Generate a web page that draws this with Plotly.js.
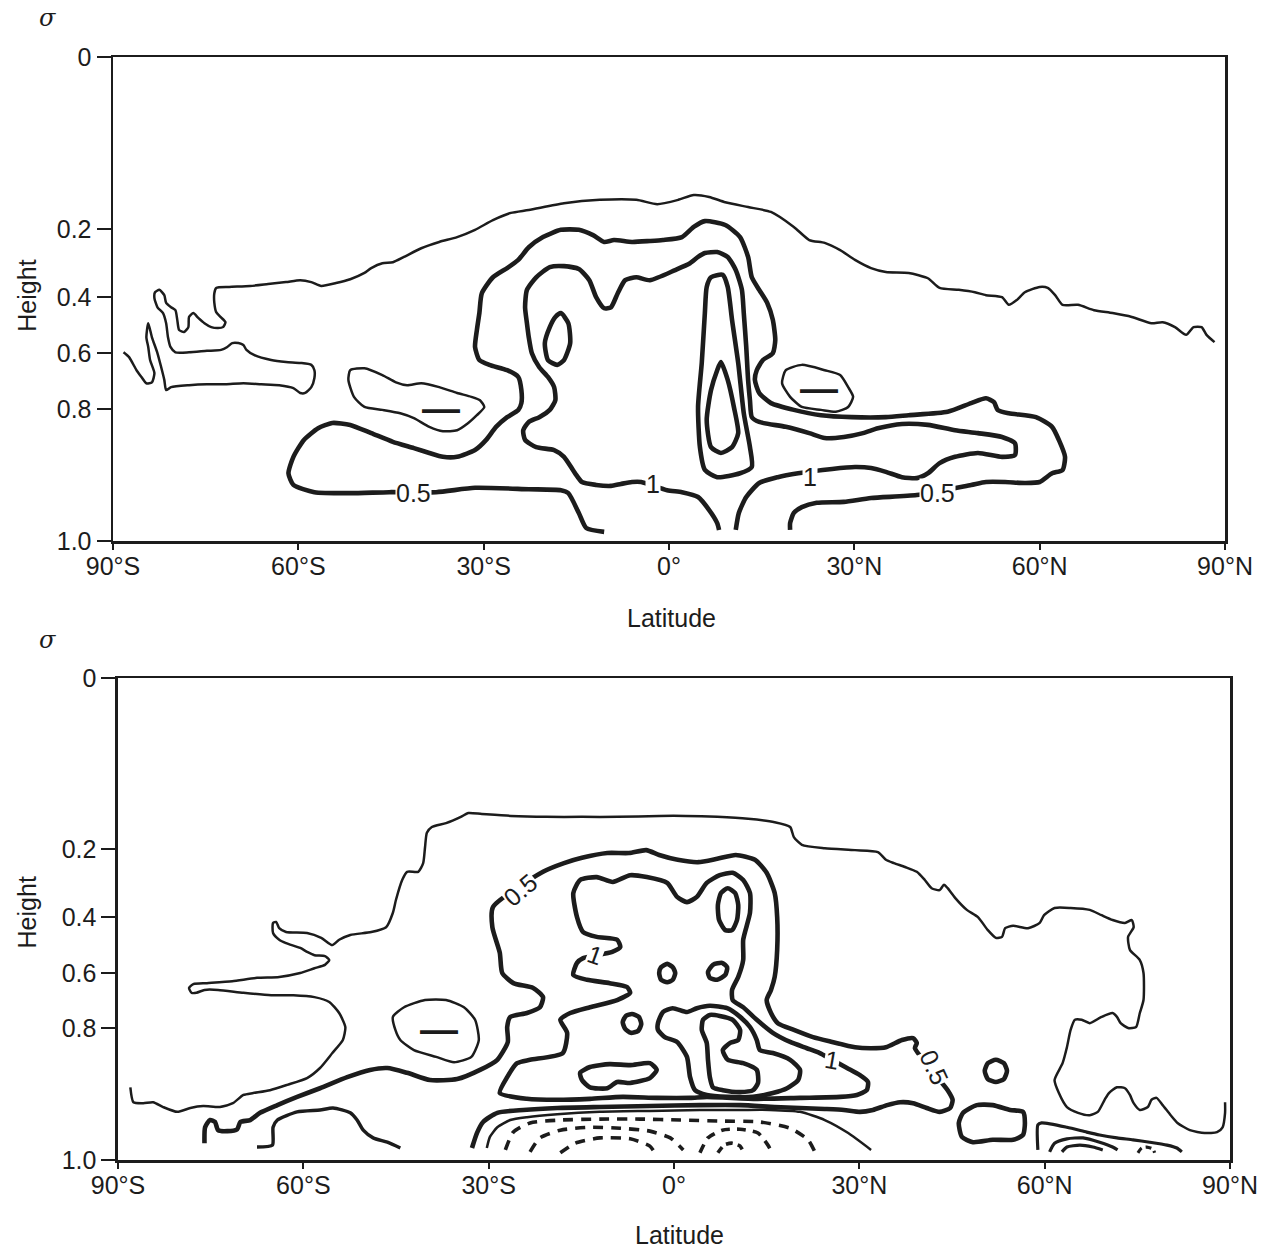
<!DOCTYPE html>
<html>
<head>
<meta charset="utf-8">
<script src="https://cdn.plot.ly/plotly-3.0.1.min.js"></script>
<style>html,body{margin:0;padding:0;background:#fff;}#chart{width:1277px;height:1251px;}</style>
</head>
<body>
<div id="chart"></div>
<script>
// ---------- axis tick data ----------
const latTicks = [-90, -60, -30, 0, 30, 60, 90];
const latLabels = ['90°S', '60°S', '30°S', '0°', '30°N', '60°N', '90°N'];
// normalized height (0 = surface, 1 = model top) at which each sigma level sits
const sigmaHeights = [0, 0.273, 0.388, 0.504, 0.645, 1.0];
const sigmaLabels = ['1.0', '0.8', '0.6', '0.4', '0.2', '0'];

// ---------- upper panel contours (lat, height) ----------
const topOuterLat = [-88.3,-87.4,-86.2,-85.4,-84.6,-83.7,-83.3,-84.0,-84.3,-84.6,-84.3,-83.7,-82.8,-82.2,-81.7,-81.4,-80.6,-77.7,-74.8,-71.8,-68.9,-66.0,-63.1,-60.8,-59.7,-58.9,-57.9,-57.4,-57.4,-57.9,-59.7,-62.0,-64.4,-67.1,-68.4,-68.9,-69.7,-70.7,-71.5,-72.5,-74.8,-77.7,-79.9,-80.7,-81.1,-81.4,-81.9,-82.8,-83.3,-83.2,-82.5,-81.7,-81.4,-80.6,-79.9,-79.6,-79.3,-78.5,-77.8,-77.7,-77.0,-76.2,-75.2,-74.1,-73.0,-72.2,-71.8,-72.6,-73.3,-73.6,-73.6,-73.3,-71.2,-67.8,-64.9,-62.0,-59.7,-57.9,-56.3,-53.9,-51.6,-49.3,-48.2,-46.4,-44.7,-42.9,-40.1,-37.2,-34.3,-31.4,-28.5,-25.6,-22.7,-17.0,-11.2,-5.3,-1.9,1.5,4.0,6.5,9.1,12.8,16.5,20.2,22.7,25.2,27.7,30.1,32.7,35.1,38.8,41.9,43.8,46.9,49.5,51.3,53.9,55.0,56.3,57.6,60.0,61.3,62.5,63.7,66.2,68.8,71.8,74.9,78.1,79.9,81.9,83.7,84.9,86.2,87.0,88.3];
const topOuterH = [0.390,0.380,0.353,0.339,0.326,0.328,0.347,0.374,0.401,0.421,0.450,0.421,0.388,0.359,0.333,0.312,0.318,0.322,0.324,0.324,0.326,0.324,0.322,0.316,0.306,0.306,0.318,0.337,0.353,0.364,0.368,0.370,0.374,0.384,0.395,0.405,0.409,0.409,0.401,0.395,0.393,0.390,0.390,0.401,0.421,0.450,0.471,0.483,0.502,0.514,0.519,0.508,0.492,0.483,0.477,0.457,0.436,0.432,0.442,0.463,0.471,0.461,0.450,0.442,0.440,0.442,0.452,0.463,0.473,0.492,0.512,0.523,0.525,0.527,0.531,0.535,0.539,0.535,0.527,0.533,0.541,0.554,0.564,0.574,0.576,0.587,0.605,0.618,0.628,0.643,0.663,0.678,0.684,0.698,0.705,0.705,0.696,0.705,0.715,0.711,0.700,0.690,0.680,0.649,0.622,0.616,0.601,0.581,0.564,0.556,0.554,0.543,0.523,0.519,0.514,0.508,0.504,0.488,0.498,0.514,0.525,0.523,0.508,0.488,0.488,0.477,0.471,0.463,0.450,0.452,0.442,0.426,0.442,0.442,0.426,0.411];

const topHalfLat = [-10.5,-13.4,-14.6,-16.3,-17.5,-22.7,-31.4,-37.7,-45.3,-51.6,-57.4,-60.8,-61.6,-60.8,-59.1,-56.8,-54.5,-51.6,-48.2,-44.7,-41.3,-38.8,-36.6,-34.3,-31.4,-29.6,-28.0,-26.2,-24.4,-23.9,-23.9,-24.4,-26.2,-29.1,-30.7,-31.4,-31.1,-30.7,-30.3,-28.5,-26.2,-24.4,-22.7,-20.4,-17.5,-14.6,-12.3,-10.5,-8.9,-6.0,-3.1,-1.0,2.1,4.0,5.8,9.1,11.5,12.8,13.4,14.6,15.9,16.8,17.2,16.8,15.2,14.2,13.9,14.6,16.5,20.2,24.6,29.6,35.1,38.8,45.1,48.9,51.3,52.6,53.2,55.0,59.4,62.0,63.1,64.1,63.7,62.0,60.0,57.6,54.4,51.3,48.9,40.1,32.7,28.3,23.9,21.5,20.2,19.6,19.6];
const topHalfH = [0.019,0.027,0.058,0.099,0.105,0.107,0.110,0.101,0.101,0.099,0.101,0.116,0.140,0.174,0.209,0.233,0.244,0.240,0.223,0.205,0.192,0.182,0.174,0.174,0.188,0.209,0.236,0.256,0.271,0.285,0.312,0.339,0.353,0.364,0.374,0.401,0.436,0.471,0.512,0.545,0.564,0.581,0.607,0.628,0.643,0.643,0.632,0.618,0.622,0.618,0.620,0.622,0.628,0.649,0.661,0.653,0.628,0.587,0.545,0.519,0.492,0.457,0.415,0.388,0.374,0.353,0.333,0.306,0.285,0.271,0.260,0.256,0.256,0.260,0.267,0.285,0.295,0.287,0.271,0.264,0.256,0.236,0.209,0.174,0.147,0.140,0.122,0.120,0.122,0.122,0.116,0.095,0.089,0.081,0.079,0.070,0.058,0.037,0.023];

const topOneLat = [8.1,7.8,6.5,4.7,2.1,-0.3,-4.5,-6.0,-7.8,-9.4,-11.8,-14.1,-15.2,-17.0,-18.6,-21.5,-23.3,-23.6,-22.7,-21.0,-19.3,-18.4,-18.6,-19.6,-21.0,-22.2,-22.7,-23.0,-23.3,-23.0,-21.5,-19.3,-17.0,-14.6,-12.9,-11.8,-10.5,-9.4,-8.3,-7.1,-5.3,-3.1,1.0,3.4,4.7,5.8,7.8,9.5,10.8,11.8,12.1,12.5,12.8,13.1,13.4,14.6,18.9,22.7,25.2,28.3,31.4,33.8,37.7,41.9,46.3,50.0,53.9,56.0,56.0,53.9,50.0,46.3,43.8,41.9,40.1,37.7,35.1,32.7,30.1,26.4,20.9,17.6,14.6,12.5,11.3,10.8];
const topOneH = [0.023,0.037,0.064,0.091,0.101,0.105,0.122,0.122,0.118,0.114,0.116,0.122,0.140,0.174,0.188,0.194,0.209,0.229,0.246,0.256,0.271,0.291,0.318,0.339,0.359,0.388,0.421,0.450,0.483,0.519,0.545,0.566,0.568,0.562,0.539,0.504,0.481,0.483,0.512,0.539,0.545,0.539,0.560,0.574,0.587,0.595,0.597,0.587,0.560,0.519,0.471,0.401,0.333,0.291,0.256,0.246,0.236,0.223,0.213,0.215,0.223,0.233,0.242,0.240,0.229,0.223,0.215,0.202,0.178,0.174,0.182,0.174,0.161,0.140,0.130,0.132,0.143,0.151,0.153,0.149,0.140,0.132,0.120,0.091,0.058,0.023];

const topTwoLat = [6.8,8.7,9.5,10.2,11.2,12.1,13.1,13.4,11.5,7.8,5.8,5.0,4.7,5.3,5.8,6.1];
const topTwoH = [0.545,0.550,0.525,0.457,0.368,0.264,0.194,0.153,0.140,0.132,0.147,0.194,0.277,0.368,0.471,0.525];
const topThreeLat = [8.4,9.5,10.5,11.2,10.2,8.4,6.8,6.1,6.8,7.8];
const topThreeH = [0.370,0.333,0.277,0.223,0.194,0.182,0.194,0.250,0.312,0.353];
const topOvalLat = [-17.5,-16.3,-16.0,-17.0,-18.1,-19.6,-20.1,-19.3,-18.4];
const topOvalH = [0.471,0.450,0.409,0.374,0.364,0.374,0.409,0.442,0.463];
const topNegSLat = [-51.6,-49.3,-46.4,-44.2,-42.4,-40.1,-37.2,-34.3,-32.0,-30.6,-29.9,-31.1,-32.5,-34.3,-36.6,-38.8,-41.3,-43.5,-46.4,-49.3,-51.0,-51.9];
const topNegSH = [0.353,0.357,0.343,0.328,0.322,0.326,0.318,0.306,0.298,0.291,0.277,0.260,0.244,0.229,0.227,0.236,0.254,0.264,0.271,0.277,0.298,0.333];
const topNegNLat = [18.9,21.5,25.2,27.7,29.0,29.8,29.0,27.0,24.6,21.5,19.6,18.3];
const topNegNH = [0.353,0.364,0.353,0.343,0.318,0.298,0.277,0.267,0.271,0.277,0.298,0.326];

// ---------- lower panel contours (lat, height) ----------
const botOuterLat = [-88.0,-87.5,-85.9,-84.3,-82.7,-80.4,-78.3,-76.2,-73.5,-71.4,-69.7,-68.1,-65.4,-62.6,-59.4,-57.3,-55.3,-53.6,-53.2,-54.2,-55.8,-58.2,-61.6,-65.2,-69.7,-73.8,-76.0,-77.3,-78.1,-78.5,-77.8,-75.6,-71.5,-67.5,-63.9,-60.5,-58.2,-56.5,-55.8,-56.5,-58.2,-59.4,-60.5,-62.8,-63.9,-64.9,-64.9,-64.4,-63.9,-62.8,-59.4,-57.1,-55.3,-54.2,-52.4,-49.0,-46.6,-45.5,-45.0,-44.0,-43.2,-41.4,-40.6,-40.3,-40.0,-39.2,-36.9,-34.5,-33.3,-31.1,-26.4,-20.7,-14.9,-9.1,-2.4,1.9,7.0,12.0,16.3,18.8,19.4,20.7,24.4,29.3,33.0,34.3,35.6,37.4,39.3,40.6,41.7,43.0,43.7,44.3,45.5,47.4,49.2,50.8,52.1,53.1,53.6,54.9,57.3,59.2,59.9,61.6,64.2,67.3,69.2,71.0,73.0,74.1,74.4,73.5,73.8,75.4,76.0,76.0,75.4,74.8,73.5,72.3,71.7,71.0,69.2,67.3,66.0,64.9,64.2,63.6,62.9,61.6,62.3,63.6,65.4,67.3,68.6,69.7,70.4,71.7,73.0,73.8,74.4,75.4,76.7,77.3,78.1,79.1,80.4,81.5,83.5,85.9,87.9,88.8,89.2,89.2];
const botOuterH = [0.151,0.120,0.118,0.120,0.110,0.100,0.108,0.112,0.110,0.118,0.135,0.139,0.145,0.156,0.170,0.191,0.222,0.249,0.276,0.305,0.328,0.338,0.342,0.342,0.347,0.353,0.353,0.347,0.347,0.357,0.365,0.367,0.371,0.378,0.380,0.388,0.398,0.405,0.415,0.423,0.425,0.432,0.440,0.450,0.457,0.471,0.492,0.494,0.481,0.473,0.471,0.461,0.446,0.457,0.467,0.473,0.483,0.513,0.540,0.581,0.598,0.598,0.616,0.649,0.679,0.691,0.699,0.712,0.720,0.718,0.714,0.712,0.712,0.712,0.714,0.714,0.712,0.708,0.701,0.691,0.670,0.654,0.647,0.643,0.639,0.623,0.616,0.608,0.598,0.581,0.564,0.560,0.571,0.564,0.544,0.519,0.504,0.477,0.461,0.463,0.481,0.486,0.481,0.492,0.508,0.523,0.523,0.519,0.508,0.498,0.492,0.498,0.483,0.463,0.436,0.415,0.388,0.332,0.305,0.276,0.274,0.284,0.297,0.305,0.297,0.284,0.291,0.291,0.270,0.234,0.201,0.166,0.139,0.110,0.098,0.093,0.100,0.125,0.139,0.151,0.149,0.135,0.118,0.104,0.110,0.125,0.129,0.114,0.093,0.077,0.062,0.056,0.058,0.068,0.098,0.120];

const botHalfLat = [-76.0,-75.9,-75.1,-74.3,-73.8,-72.3,-70.7,-70.2,-68.6,-67.0,-64.2,-61.0,-57.3,-52.9,-49.2,-46.4,-43.2,-39.5,-35.1,-31.4,-28.6,-26.9,-27.0,-26.5,-23.8,-21.7,-21.2,-22.8,-26.0,-27.8,-28.2,-29.4,-29.3,-21.2,-17.8,-14.9,-10.8,-7.3,-4.5,-2.4,0.6,3.9,7.0,10.0,13.1,15.0,16.3,16.7,16.7,16.3,15.7,15.0,15.7,16.8,19.4,22.5,25.6,29.3,31.9,34.3,36.9,38.7,39.3,39.0,44.3,45.1,44.7,43.0,40.9,38.7,36.6,34.5,32.2,30.1,27.5,24.4,20.4,16.3,10.7,4.2,-3.9,-12.0,-18.9,-24.4,-28.6,-30.9,-31.9,-32.7];
const botHalfH = [0.035,0.068,0.083,0.079,0.062,0.060,0.064,0.079,0.083,0.098,0.114,0.131,0.149,0.172,0.187,0.191,0.181,0.166,0.168,0.187,0.208,0.245,0.276,0.297,0.305,0.317,0.338,0.357,0.367,0.388,0.430,0.483,0.525,0.598,0.616,0.627,0.637,0.637,0.643,0.633,0.623,0.618,0.625,0.633,0.623,0.596,0.554,0.504,0.436,0.380,0.353,0.332,0.305,0.284,0.270,0.255,0.245,0.234,0.232,0.234,0.249,0.253,0.243,0.232,0.145,0.125,0.108,0.100,0.108,0.118,0.120,0.114,0.104,0.100,0.104,0.106,0.108,0.110,0.114,0.114,0.112,0.110,0.108,0.104,0.098,0.079,0.056,0.025];

const botOneLat = [26.9,20.4,13.4,5.3,2.6,-2.8,-8.3,-13.6,-18.9,-23.8,-28.2,-27.0,-25.4,-23.3,-18.0,-17.3,-18.4,-16.8,-13.6,-9.2,-7.1,-7.6,-10.4,-14.1,-16.3,-15.7,-14.7,-10.0,-8.7,-9.2,-12.5,-14.7,-15.7,-16.3,-15.2,-12.5,-9.9,-7.1,-4.4,-1.1,0.5,2.1,3.7,5.3,7.4,9.5,11.2,12.3,12.3,11.2,11.2,10.4,9.4,9.5,11.2,13.4,16.0,18.8,21.5,23.6,28.0,30.1,31.4,31.2,29.6,26.9];
const botOneH = [0.131,0.129,0.127,0.131,0.129,0.129,0.131,0.127,0.125,0.127,0.139,0.172,0.201,0.208,0.222,0.264,0.291,0.305,0.317,0.332,0.347,0.359,0.367,0.374,0.384,0.409,0.419,0.432,0.442,0.457,0.463,0.473,0.504,0.554,0.581,0.587,0.577,0.591,0.587,0.575,0.546,0.535,0.546,0.575,0.591,0.596,0.581,0.554,0.513,0.457,0.415,0.380,0.353,0.332,0.317,0.291,0.264,0.245,0.232,0.222,0.191,0.176,0.162,0.145,0.135,0.131];

const botOneHalfLat = [-2.6,-1.8,-0.2,2.1,3.7,5.8,8.6,10.7,12.3,13.4,13.9,16.0,18.8,20.4,20.1,18.3,16.0,12.8,8.6,5.3,3.4,2.6,2.1,0.5,-1.5,-2.6];
const botOneHalfH = [0.284,0.307,0.315,0.307,0.315,0.320,0.315,0.297,0.276,0.249,0.228,0.222,0.208,0.187,0.166,0.149,0.139,0.131,0.131,0.135,0.145,0.172,0.214,0.245,0.255,0.270];
const botTwoLat = [4.7,5.8,7.4,9.5,10.7,10.4,9.1,7.9,8.7,11.2,13.4,13.6,12.8,10.7,7.9,6.3,5.8,5.5,5.3,4.5];
const botTwoH = [0.291,0.301,0.299,0.291,0.270,0.249,0.243,0.228,0.208,0.201,0.187,0.160,0.145,0.141,0.145,0.151,0.172,0.208,0.243,0.270];
const botTallLat = [8.7,9.9,10.4,10.2,9.4,8.3,7.3,7.1,7.6];
const botTallH = [0.564,0.554,0.529,0.498,0.477,0.477,0.498,0.529,0.554];
const botDotALat = [-1.1,-0.2,0.2,-0.2,-1.1,-2.1,-2.4,-2.1];
const botDotAH = [0.407,0.400,0.388,0.374,0.369,0.374,0.388,0.400];
const botDotBLat = [7.8,8.6,8.3,7.0,5.8,5.5,6.3];
const botDotBH = [0.409,0.400,0.384,0.374,0.378,0.390,0.405];
const botDotCLat = [-6.8,-5.7,-5.3,-5.8,-7.0,-7.9,-8.3,-7.8];
const botDotCH = [0.303,0.297,0.282,0.268,0.264,0.272,0.286,0.299];
const botLowLoopLat = [-15.2,-13.6,-10.4,-7.1,-3.9,-2.8,-3.9,-7.1,-9.2,-10.8,-13.6,-14.9];
const botLowLoopH = [0.181,0.193,0.199,0.197,0.201,0.187,0.170,0.160,0.162,0.149,0.151,0.166];
const botCircleLat = [52.1,53.4,53.9,53.4,52.1,50.8,50.3,50.8];
const botCircleH = [0.208,0.201,0.185,0.168,0.162,0.168,0.185,0.201];
const botBlobLat = [46.8,49.0,51.6,54.4,56.5,56.8,56.5,54.9,51.6,48.4,46.6,46.1];
const botBlobH = [0.098,0.114,0.114,0.104,0.100,0.077,0.052,0.042,0.042,0.037,0.048,0.077];
const botNegLat = [-45.5,-43.7,-40.3,-36.9,-34.0,-32.2,-31.6,-32.8,-35.6,-38.5,-42.1,-44.3,-45.1];
const botNegH = [0.297,0.317,0.332,0.332,0.317,0.291,0.249,0.214,0.203,0.214,0.228,0.249,0.270];
const botSurfLat = [-67.5,-65.0,-64.9,-64.2,-61.0,-57.3,-55.2,-52.4,-51.3,-50.3,-48.7,-46.4,-44.3];
const botSurfH = [0.027,0.031,0.068,0.083,0.100,0.104,0.108,0.098,0.083,0.062,0.046,0.037,0.025];
const botZeroLat = [-30.3,-29.8,-28.6,-26.5,-23.8,-18.9,-12.0,-3.9,4.2,10.7,15.5,20.4,24.4,28.2,31.9];
const botZeroH = [0.025,0.048,0.068,0.083,0.089,0.095,0.100,0.102,0.104,0.104,0.104,0.100,0.083,0.056,0.021];
// negative (dashed) contours near the surface
const botDash1Lat = [-27.3,-26.0,-23.3,-18.4,-12.0,-5.5,1.0,7.4,13.9,18.8,21.7,22.8];
const botDash1H = [0.021,0.058,0.077,0.083,0.085,0.085,0.083,0.081,0.079,0.066,0.042,0.017];
const botDash2Lat = [-23.3,-21.7,-18.4,-13.6,-8.7,-3.9,-0.6,1.5];
const botDash2H = [0.017,0.046,0.062,0.068,0.066,0.060,0.046,0.021];
const botDash3Lat = [-18.4,-16.0,-12.0,-7.1,-3.9,-3.1];
const botDash3H = [0.015,0.035,0.046,0.044,0.029,0.015];
const botDash4Lat = [4.2,5.5,7.8,10.7,13.6,15.2,15.9];
const botDash4H = [0.015,0.046,0.062,0.064,0.056,0.031,0.015];
const botDash5Lat = [7.1,8.1,9.4,10.7,11.3];
const botDash5H = [0.015,0.031,0.035,0.029,0.015];
// shallow cell near 60N
const botBoxLat = [58.9,58.9,59.5,63.6,66.8,68.9,71.7,74.3,77.0,79.8,81.4,82.2];
const botBoxH = [0.021,0.073,0.077,0.068,0.058,0.052,0.046,0.042,0.037,0.031,0.025,0.017];
const botArc1Lat = [60.8,61.6,63.6,66.2,68.9,71.0,71.8];
const botArc1H = [0.017,0.035,0.044,0.046,0.037,0.027,0.021];
const botArc2Lat = [62.8,63.6,65.7,67.8,69.4];
const botArc2H = [0.017,0.027,0.031,0.027,0.021];
const botArc3Lat = [75.1,75.7,76.5,77.5,77.8];
const botArc3H = [0.015,0.025,0.027,0.023,0.015];

// ---------- build traces ----------
const INK = '#1c1c1c';
const THICK = 4.6, THIN = 2.5;
const traces = [];
function addLine(lat, h, panel, width, opts) {
  opts = opts || {};
  let x = lat.slice(), y = h.slice();
  if (opts.closed) { x.push(lat[0]); y.push(h[0]); }
  traces.push({
    type: 'scatter', mode: 'lines', x: x, y: y,
    xaxis: panel === 1 ? 'x' : 'x2', yaxis: panel === 1 ? 'y' : 'y2',
    line: {color: INK, width: width, shape: 'spline', smoothing: 0.6, dash: opts.dash || 'solid'},
    hoverinfo: 'skip'
  });
}
// upper
addLine(topOuterLat, topOuterH, 1, THIN);
addLine(topHalfLat, topHalfH, 1, THICK);
addLine(topOneLat, topOneH, 1, THICK);
addLine(topTwoLat, topTwoH, 1, THICK, {closed: true});
addLine(topThreeLat, topThreeH, 1, THICK, {closed: true});
addLine(topOvalLat, topOvalH, 1, THICK, {closed: true});
addLine(topNegSLat, topNegSH, 1, THIN, {closed: true});
addLine(topNegNLat, topNegNH, 1, THIN, {closed: true});
// lower
addLine(botOuterLat, botOuterH, 2, THIN);
addLine(botHalfLat, botHalfH, 2, THICK);
addLine(botOneLat, botOneH, 2, THICK);
addLine(botOneHalfLat, botOneHalfH, 2, THICK, {closed: true});
addLine(botTwoLat, botTwoH, 2, THICK, {closed: true});
addLine(botTallLat, botTallH, 2, THICK, {closed: true});
addLine(botDotALat, botDotAH, 2, THICK, {closed: true});
addLine(botDotBLat, botDotBH, 2, THICK, {closed: true});
addLine(botDotCLat, botDotCH, 2, THICK, {closed: true});
addLine(botLowLoopLat, botLowLoopH, 2, THICK, {closed: true});
addLine(botCircleLat, botCircleH, 2, THICK, {closed: true});
addLine(botBlobLat, botBlobH, 2, THICK, {closed: true});
addLine(botNegLat, botNegH, 2, THIN, {closed: true});
addLine(botSurfLat, botSurfH, 2, THIN + 1);
addLine(botZeroLat, botZeroH, 2, THIN);
addLine(botDash1Lat, botDash1H, 2, 3.6, {dash: '10px,8px'});
addLine(botDash2Lat, botDash2H, 2, 3.6, {dash: '10px,8px'});
addLine(botDash3Lat, botDash3H, 2, 3.6, {dash: '10px,8px'});
addLine(botDash4Lat, botDash4H, 2, 3.6, {dash: '9px,7px'});
addLine(botDash5Lat, botDash5H, 2, 3.6, {dash: '7px,5px'});
addLine(botBoxLat, botBoxH, 2, 3.2);
addLine(botArc1Lat, botArc1H, 2, 3.2);
addLine(botArc2Lat, botArc2H, 2, 3.2);
addLine(botArc3Lat, botArc3H, 2, 3.2, {dash: '6px,4px'});

// ---------- contour labels ----------
const labelFont = {family: 'Liberation Sans, Arial, sans-serif', size: 25, color: INK};
function lab(text, lat, h, panel, angle) {
  return {
    text: text, x: lat, y: h, xref: panel === 1 ? 'x' : 'x2', yref: panel === 1 ? 'y' : 'y2',
    xanchor: 'center', yanchor: 'middle',
    showarrow: false, font: labelFont, bgcolor: '#ffffff', borderpad: 0, textangle: angle || 0
  };
}
const minusFont = {family: 'Liberation Sans, Arial, sans-serif', size: 38, color: INK, weight: 'bold'};
function minus(lat, h, panel) {
  return {text: '—', x: lat, y: h, xref: panel === 1 ? 'x' : 'x2', yref: panel === 1 ? 'y' : 'y2',
    xanchor: 'center', yanchor: 'middle', showarrow: false, font: minusFont};
}
const annotations = [
  lab('0.5', -41.3, 0.099, 1), lab('0.5', 43.4, 0.099, 1),
  lab('1', -2.6, 0.118, 1), lab('1', 22.8, 0.132, 1),
  lab('0.5', -24.9, 0.560, 2, -40), lab('0.5', 42.1, 0.193, 2, 65),
  lab('1', -12.8, 0.425, 2, 20), lab('1', 25.6, 0.208, 2, 10),
  minus(-36.9, 0.273, 1), minus(24.3, 0.314, 1), minus(-38.0, 0.270, 2)
];
const titleFont = {family: 'Liberation Sans, Arial, sans-serif', size: 25, color: INK};
const sigmaFont = {family: 'DejaVu Serif, serif', size: 24, color: INK};
function paperText(text, x, y, font, angle) {
  return {text: text, xref: 'paper', yref: 'paper', x: x, y: y, xanchor: 'center', yanchor: 'middle',
    textangle: angle || 0, showarrow: false, font: font};
}
annotations.push(
  paperText('Height', 0.0215, 0.764, titleFont, -90),
  paperText('Height', 0.0215, 0.271, titleFont, -90),
  paperText('Latitude', 0.526, 0.506, titleFont),
  paperText('Latitude', 0.532, 0.0128, titleFont),
  paperText('<i>σ</i>', 0.037, 0.9856, sigmaFont),
  paperText('<i>σ</i>', 0.037, 0.4884, sigmaFont)
);

const tickFont = {family: 'Liberation Sans, Arial, sans-serif', size: 25, color: INK};
function xAx(domain, anchor) {
  return {domain: domain, anchor: anchor, range: [-90, 90], tickmode: 'array', tickvals: latTicks, ticktext: latLabels,
    ticks: 'outside', ticklen: 6, tickwidth: 2, tickcolor: INK, showline: true, linewidth: 2.5, linecolor: INK,
    mirror: true, showgrid: false, zeroline: false, tickfont: tickFont, fixedrange: true, ticklabelstandoff: -5};
}
function yAx(domain, anchor) {
  return {domain: domain, anchor: anchor, range: [0, 1], tickmode: 'array', tickvals: sigmaHeights, ticktext: sigmaLabels,
    ticks: 'outside', ticklen: 14, tickwidth: 2, tickcolor: INK, showline: true, linewidth: 2.5, linecolor: INK,
    mirror: true, showgrid: false, zeroline: false, tickfont: tickFont, fixedrange: true};
}
const layout = {
  width: 1277, height: 1251, margin: {l: 0, r: 0, t: 0, b: 0},
  paper_bgcolor: '#ffffff', plot_bgcolor: '#ffffff', showlegend: false,
  xaxis: xAx([0.0885, 0.9593], 'y'), yaxis: yAx([0.5675, 0.9544], 'x'),
  xaxis2: xAx([0.0924, 0.9632], 'y2'), yaxis2: yAx([0.0727, 0.4580], 'x2'),
  annotations: annotations
};
Plotly.newPlot('chart', traces, layout, {displayModeBar: false, staticPlot: true});
</script>
</body>
</html>
